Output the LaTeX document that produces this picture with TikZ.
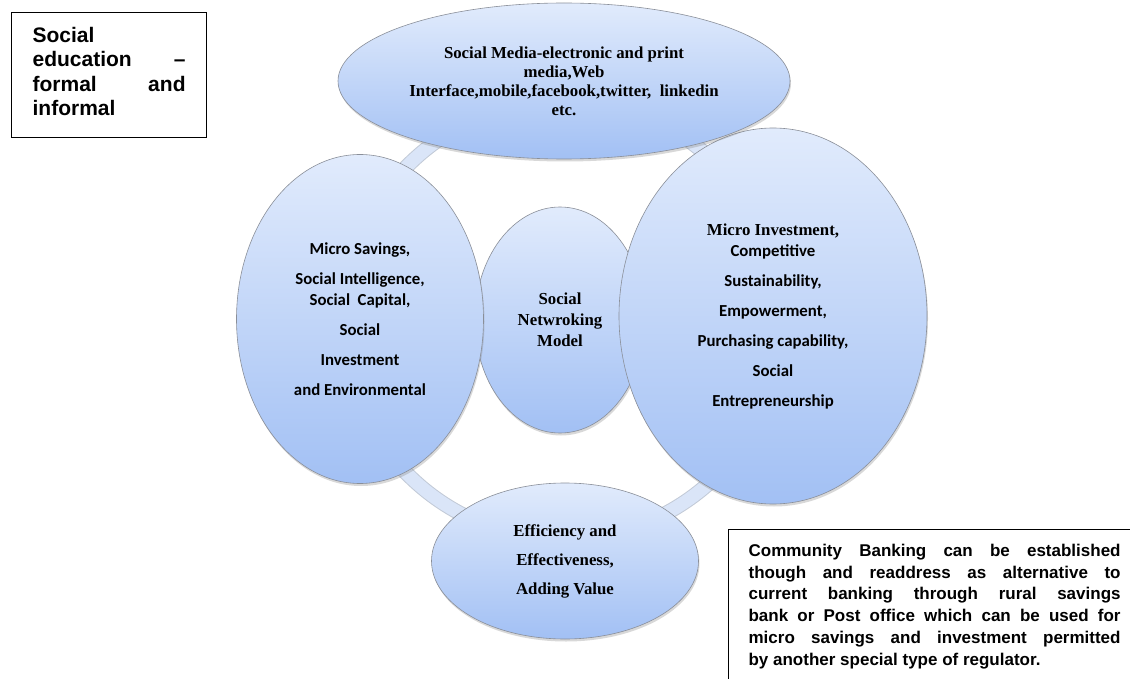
\documentclass[tikz,border=0pt]{standalone}
\usepackage{fontspec}
\setmainfont{Liberation Serif}
\setsansfont{Carlito}
\newfontfamily\arialfont{Liberation Sans}
\usetikzlibrary{shapes.geometric,shadows}
\definecolor{bubtop}{HTML}{E1EBFC}
\definecolor{bubbot}{HTML}{A2C0F4}
\definecolor{bubline}{HTML}{8A8F99}
\definecolor{ringfill}{HTML}{DAE5F8}
\definecolor{ringedge}{HTML}{C2CAD7}
\tikzset{
  bub/.style={ellipse, inner sep=0pt, draw=bubline, line width=0.6pt,
    top color=bubtop, bottom color=bubbot, align=center,
    drop shadow={shadow xshift=1pt, shadow yshift=-2.5pt, opacity=0.3}},
  serifbf/.style={font=\rmfamily\bfseries\fontsize{16.8}{#1}\selectfont},
  sansbf/.style={font=\sffamily\bfseries\fontsize{16.8}{#1}\selectfont},
  notebox/.style={draw=black, line width=1.2pt, align=justify, fill=white},
  ringrim/.style={draw=ringedge, line width=15pt},
  ringband/.style={draw=ringfill, line width=13pt},
}

\begin{document}
\begin{tikzpicture}[x=1pt,y=-1pt]
  \useasboundingbox (0,0) rectangle (1130,679);
  \clip (0,0) rectangle (1130,679);
  \fill[white] (0,0) rectangle (1130,679);

  \coordinate (hub) at (563,320);   % centre of the ring

  \draw[ringrim] (hub) circle[radius=219];
  \draw[ringband] (hub) circle[radius=219];

  \node[bub, serifbf=21, minimum width=170pt, minimum height=226pt] (model) at (560,320)
    {Social\\ Netwroking\\ Model};
  \node[bub, sansbf=30, minimum width=247pt, minimum height=329pt] (savings) at (360,319)
    {Micro Savings,\\ Social Intelligence,\\[-9pt] Social\ \ Capital,\\ Social\\ Investment\\ and Environmental};
  \node[bub, sansbf=30, minimum width=308pt, minimum height=376pt] (invest) at (773,316)
    {{\rmfamily Micro Investment,}\\[-9pt] Competitive\\ Sustainability,\\ Empowerment,\\ Purchasing capability,\\ Social\\ Entrepreneurship};
  \node[bub, serifbf=19, minimum width=452pt, minimum height=156pt] (media) at (564,81)
    {Social Media-electronic and print\\ media,Web\\ Interface,mobile,facebook,twitter,\ \ linkedin\\ etc.};
  \node[bub, serifbf=29, minimum width=267pt, minimum height=156pt] (value) at (565,561)
    {Efficiency and\\ Effectiveness,\\ Adding Value};

  \node[notebox, font=\arialfont\bfseries\fontsize{21}{24.3}\selectfont, text width=153pt,
    inner xsep=21pt, inner ysep=14.7pt, text depth=80.2pt, anchor=north west]
    (edu) at (11,12) {Social\linebreak education –\linebreak formal and\linebreak informal};

  \node[notebox, font=\arialfont\bfseries\fontsize{17}{21.7}\selectfont, text width=372pt,
    inner xsep=20pt, inner ysep=14.6pt, anchor=north west] (bank) at (728,529)
    {Community Banking can be established\linebreak though and readdress as alternative to\linebreak
     current banking through rural savings\linebreak bank or Post office which can be used for\linebreak
     micro savings and investment permitted\linebreak by another special type of regulator.};
\end{tikzpicture}
\end{document}
